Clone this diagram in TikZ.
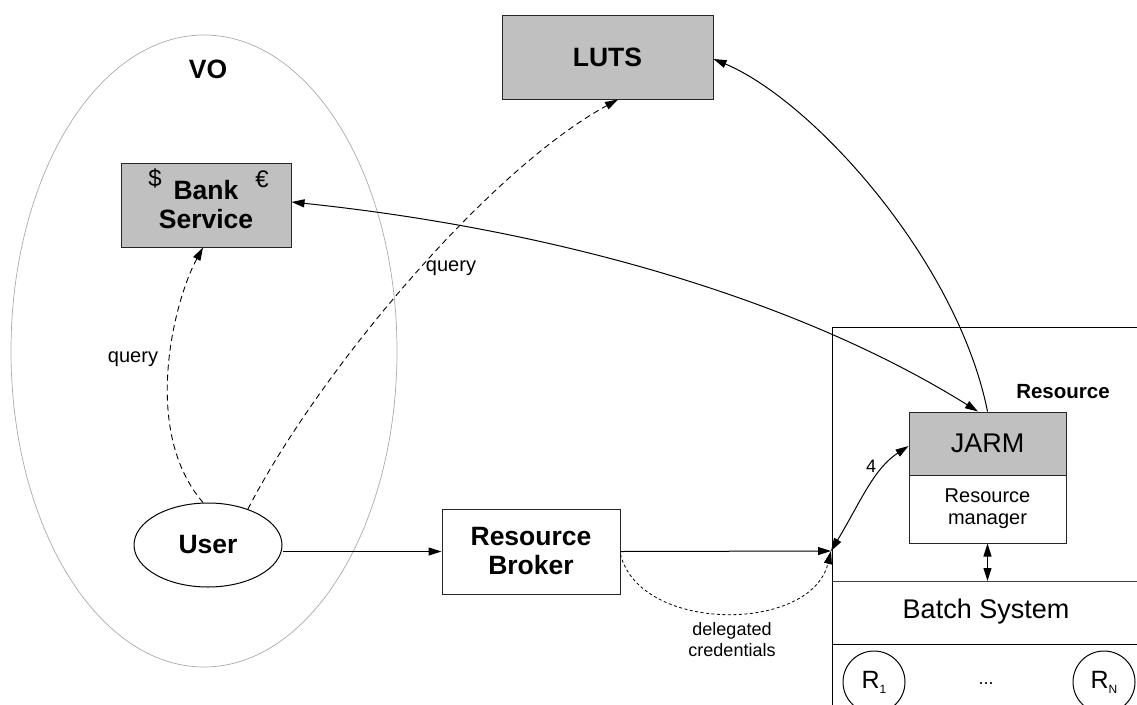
\documentclass[tikz,border=0pt]{standalone}
\usepackage{fontspec}
\setmainfont{Liberation Sans}
\usetikzlibrary{arrows.meta,shapes.geometric}
\definecolor{boxgray}{RGB}{192,192,192}
\definecolor{vogray}{RGB}{170,170,170}
\begin{document}
\begin{tikzpicture}[x=1pt,y=-1pt,
  line width=1pt,
  >={Triangle[length=13pt,width=8pt]},
  boldtxt/.style={font=\fontsize{26.5}{31}\selectfont\bfseries},
  plaintxt/.style={font=\fontsize{27}{30}\selectfont},
  smalltxt/.style={font=\fontsize{20}{22}\selectfont},
  labeltxt/.style={font=\fontsize{18}{21}\selectfont},
  box/.style={draw=black!85, rectangle, inner sep=0pt, align=center},
  graybox/.style={box, fill=boxgray},
  dashedarrow/.style={->, dash pattern=on 6pt off 4pt, line width=0.9pt},
  rcircle/.style={draw, circle, minimum size=62pt, inner sep=0pt, font=\fontsize{25}{25}\selectfont}
]
\useasboundingbox (0,0) rectangle (1137,704);

% virtual organisation
\node[draw=vogray, line width=0.7pt, ellipse, minimum width=386pt, minimum height=632pt, inner sep=0pt] (vo) at (204,351) {};
\node[boldtxt] (volabel) at (208,69) {VO};

% services
\node[graybox, boldtxt, minimum width=211pt, minimum height=84pt] (luts) at (607.5,57) {LUTS};
\node[graybox, boldtxt, minimum width=170pt, minimum height=84pt] (bank) at (206,205) {Bank\\[-2pt]Service};
\node[font=\fontsize{24}{24}\selectfont] (dollar) at (155,178) {\$};
\node[font=\fontsize{24}{24}\selectfont] (euro) at (262,179) {€};

% user and broker
\node[draw, ellipse, boldtxt, minimum width=148pt, minimum height=84pt, inner sep=0pt] (user) at (208,545) {User};
\node[box, boldtxt, minimum width=178pt, minimum height=85pt] (broker) at (531,551.5) {Resource\\[-2pt]Broker};

% resource site
\draw (1140,327) -- (832,327) -- (832,710);
\draw[draw=black!75] (832,581) -- (1140,581);
\draw (832,644) -- (1140,644);
\node[font=\fontsize{20.5}{20.5}\selectfont\bfseries] (reslabel) at (1063,392) {Resource};
\node[graybox, plaintxt, minimum width=157pt, minimum height=63pt] (jarm) at (987.5,443.5) {JARM};
\node[box, smalltxt, minimum width=157pt, minimum height=68pt] (rm) at (987.5,509) {Resource\\manager};
\node[plaintxt] (batch) at (986,612) {Batch System};
\node[rcircle] (r1) at (874,682) {R\raisebox{-5pt}{\fontsize{12}{12}\selectfont 1}};
\node[rcircle] (rn) at (1104,682) {R\raisebox{-5pt}{\fontsize{12}{12}\selectfont N}};
\node[font=\fontsize{18}{18}\selectfont] (dots) at (986,684) {...};
\coordinate (junction) at (831,551);
\coordinate (batchtop) at (987.5,581);

% job submission path
\draw[->] (user.east |- broker.west) -- (broker.west);
\draw[->] (broker.east) -- (junction);
\draw[dashedarrow, dash pattern=on 3pt off 2.5pt, line width=0.8pt] ([yshift=-3pt]broker.east) .. controls +(20,79) and +(-20,82) .. (junction);
\node[labeltxt, align=center] (deleg) at (732,640) {delegated\\credentials};
\draw[<->] (junction) .. controls +(30,-50) and +(-35,23) .. ([yshift=-2.5pt]jarm.west);
\node[labeltxt] (four) at (871,466) {4};
\draw[<->] (rm.south) -- (batchtop);

% accounting connections
\draw[<->] ([yshift=3pt]bank.east) .. controls +(268,28) and +(-178,-111) .. ([xshift=-9.5pt]jarm.north);
\draw[->] (jarm.north) .. controls +(-30,-150) and +(100,42) .. ([yshift=-2pt]luts.east);

% user queries
\draw[dashedarrow] (user.42) .. controls +(69,-134) and +(-132,72) .. ([xshift=10.5pt]luts.south);
\node[font=\fontsize{20}{20}\selectfont] (q2) at (451,268) {query};
\draw[dashedarrow] ([xshift=-5pt]user.north) .. controls +(-63,-73) and +(-28,51) .. ([xshift=-3pt]bank.south);
\node[font=\fontsize{20}{20}\selectfont] (q1) at (133,359) {query};
\end{tikzpicture}
\end{document}
